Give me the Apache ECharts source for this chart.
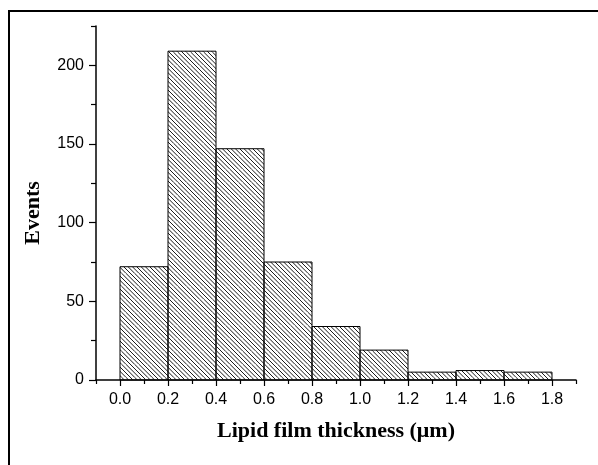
<!DOCTYPE html>
<html>
<head>
<meta charset="utf-8">
<title>Lipid film thickness histogram</title>
<script src="https://cdn.jsdelivr.net/npm/echarts@6/dist/echarts.min.js"></script>
<style>
  html, body { margin: 0; padding: 0; background: #fff; }
  #chart { width: 598px; height: 465px; }
</style>
</head>
<body>
<div id="chart"></div>
<script>
// Histogram bins (um) and counts
var binStarts = [0.0, 0.2, 0.4, 0.6, 0.8, 1.0, 1.2, 1.4, 1.6];
var binWidth = 0.2;
var counts = [72, 209, 147, 75, 34, 19, 5, 6, 5];

// Tick positions
var xMajorTicks = [0.0, 0.2, 0.4, 0.6, 0.8, 1.0, 1.2, 1.4, 1.6, 1.8];
var xMinorTicks = [-0.1, 0.1, 0.3, 0.5, 0.7, 0.9, 1.1, 1.3, 1.5, 1.7, 1.9];
var yMajorTicks = [0, 50, 100, 150, 200];
var yMinorTicks = [25, 75, 125, 175, 225];

// Hatch pattern: diagonal lines top-left -> bottom-right
var makeHatch = function() {
    var size = 13;
    var cvs = document.createElement('canvas');
    cvs.width = size;
    cvs.height = size;
    var ctx = cvs.getContext('2d');
    ctx.strokeStyle = '#1a1a1a';
    ctx.lineWidth = 1;
    for (var k = -6; k <= 6; k++) {
        var c = k * size / 3;
        ctx.beginPath();
        ctx.moveTo(c, 0);
        ctx.lineTo(c + size, size);
        ctx.stroke();
    }
    return cvs;
};
var hatch = makeHatch();

var chart = echarts.init(document.getElementById('chart'));

var axisLineStyle = { color: '#000', width: 1.5 };
var tickStyle = { color: '#000', width: 1.2 };

var option = {
    animation: false,
    backgroundColor: '#fff',
    grid: { left: 96, top: 26, width: 480, height: 354 },
    xAxis: [
        {
            type: 'value',
            min: -0.1,
            max: 1.9,
            position: 'bottom',
            axisLine: { onZero: false, lineStyle: axisLineStyle },
            axisTick: { customValues: xMajorTicks, length: 6, lineStyle: tickStyle },
            axisLabel: {
                customValues: xMajorTicks,
                formatter: function(v) { return v.toFixed(1); },
                color: '#000',
                fontFamily: 'Liberation Sans, Arial, sans-serif',
                fontSize: 16,
                margin: 12
            },
            splitLine: { show: false },
            name: 'Lipid film thickness (\u03bcm)',
            nameLocation: 'middle',
            nameGap: 40,
            nameTextStyle: {
                color: '#000',
                fontFamily: 'Liberation Serif, Times New Roman, serif',
                fontWeight: 'bold',
                fontSize: 22
            }
        },
        {
            type: 'value',
            min: -0.1,
            max: 1.9,
            position: 'bottom',
            axisLine: { show: false, onZero: false },
            axisTick: { customValues: xMinorTicks, length: 4, lineStyle: tickStyle },
            axisLabel: { show: false },
            splitLine: { show: false }
        }
    ],
    yAxis: [
        {
            type: 'value',
            min: 0,
            max: 225,
            position: 'left',
            axisLine: { show: true, onZero: false, lineStyle: axisLineStyle },
            axisTick: { show: true, customValues: yMajorTicks, length: 7, lineStyle: tickStyle },
            axisLabel: {
                customValues: yMajorTicks,
                color: '#000',
                fontFamily: 'Liberation Sans, Arial, sans-serif',
                fontSize: 16,
                margin: 12
            },
            splitLine: { show: false },
            name: 'Events',
            nameLocation: 'middle',
            nameRotate: 90,
            nameGap: 52,
            nameTextStyle: {
                color: '#000',
                fontFamily: 'Liberation Serif, Times New Roman, serif',
                fontWeight: 'bold',
                fontSize: 22,
                padding: [0, 20, 0, 0]
            }
        },
        {
            type: 'value',
            min: 0,
            max: 225,
            position: 'left',
            axisLine: { show: false, onZero: false },
            axisTick: { show: true, customValues: yMinorTicks, length: 5, lineStyle: tickStyle },
            axisLabel: { show: false },
            splitLine: { show: false }
        }
    ],
    graphic: [
        {
            type: 'rect',
            shape: { x: 9, y: 11, width: 700, height: 700 },
            style: { fill: 'none', stroke: '#000', lineWidth: 2 },
            silent: true
        }
    ],
    series: [
        {
            type: 'custom',
            xAxisIndex: 0,
            yAxisIndex: 0,
            data: binStarts.map(function(s, i) { return [s, s + binWidth, counts[i]]; }),
            renderItem: function(params, api) {
                var p0 = api.coord([api.value(0), api.value(2)]);
                var p1 = api.coord([api.value(1), 0]);
                return {
                    type: 'rect',
                    shape: { x: p0[0], y: p0[1], width: p1[0] - p0[0], height: p1[1] - p0[1] },
                    style: {
                        fill: { image: hatch, repeat: 'repeat' },
                        stroke: '#000',
                        lineWidth: 1
                    }
                };
            }
        }
    ]
};

chart.setOption(option);
</script>
</body>
</html>
